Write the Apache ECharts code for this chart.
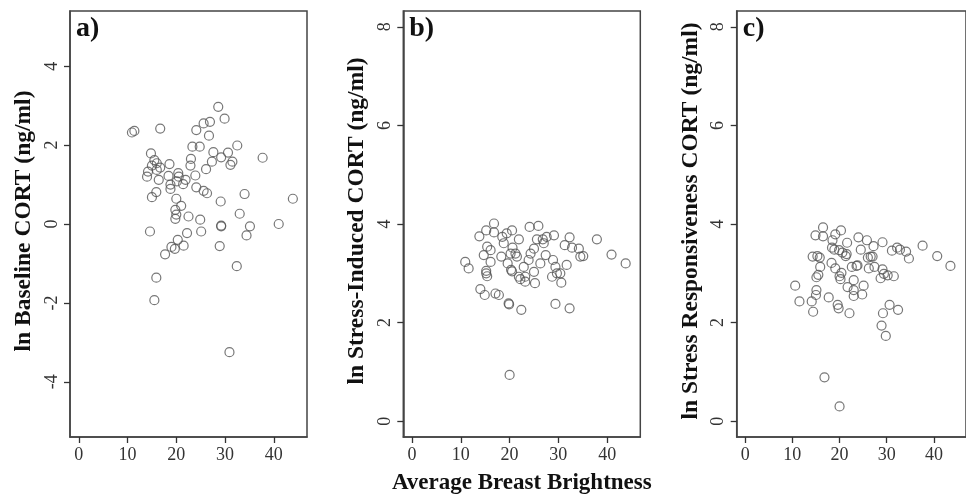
<!DOCTYPE html>
<html><head><meta charset="utf-8">
<script src="https://cdn.jsdelivr.net/npm/echarts@6/dist/echarts.min.js"></script>
<style>html,body{margin:0;padding:0;background:#fff;}#c{width:966px;height:496px;}</style>
</head><body><div id="c"></div>
<script>
// Panel a: [brightness, ln baseline CORT]
const baselineData = [[10.9,2.32],[11.4,2.36],[16.7,2.42],[24.1,2.38],[25.6,2.55],[26.9,2.59],[28.6,2.97],[29.9,2.67],[26.7,2.24],[23.3,1.96],[24.8,1.96],[32.5,1.99],[14.8,1.79],[27.6,1.82],[30.6,1.81],[37.7,1.68],[29.2,1.69],[31.5,1.58],[31.1,1.50],[27.3,1.58],[26.1,1.39],[15.5,1.62],[15.0,1.48],[16.0,1.54],[16.7,1.43],[16.0,1.37],[14.2,1.33],[14.0,1.20],[18.6,1.52],[23.0,1.65],[22.9,1.48],[16.4,1.12],[18.4,1.22],[20.4,1.29],[20.5,1.20],[20.1,1.08],[21.9,1.12],[18.8,1.0],[21.4,1.01],[23.9,1.23],[24.1,0.93],[25.6,0.84],[26.3,0.78],[15.9,0.81],[15.0,0.68],[18.8,0.89],[20.0,0.64],[21.0,0.46],[19.8,0.36],[19.8,0.13],[20.0,0.24],[22.5,0.19],[29.1,0.57],[34.0,0.76],[33.0,0.26],[43.9,0.64],[24.9,0.11],[25.1,-0.19],[29.2,-0.04],[29.2,-0.06],[35.1,-0.06],[41.0,0.0],[34.4,-0.29],[14.6,-0.19],[22.2,-0.23],[20.3,-0.40],[21.5,-0.55],[19.0,-0.58],[19.7,-0.63],[17.7,-0.77],[28.9,-0.56],[32.4,-1.07],[15.9,-1.36],[15.5,-1.93],[30.9,-3.25]];
// Panel b: [brightness, ln stress-induced CORT]
const stressInducedData = [[10.9,3.23],[11.6,3.10],[13.8,3.75],[15.2,3.87],[16.8,4.01],[16.8,3.83],[14.0,2.68],[14.9,2.56],[14.7,3.37],[15.4,3.54],[16.1,3.47],[16.1,3.23],[15.2,3.0],[15.4,2.94],[15.2,3.05],[17.1,2.59],[17.8,2.56],[19.8,2.39],[19.9,2.37],[22.4,2.26],[20.0,0.94],[18.5,3.74],[18.8,3.61],[19.4,3.81],[20.5,3.87],[18.3,3.34],[19.6,3.20],[20.2,3.40],[20.6,3.52],[21.2,3.40],[21.9,3.69],[20.3,3.07],[20.5,3.04],[21.5,3.34],[21.9,2.93],[22.2,2.88],[22.9,3.13],[23.2,2.93],[23.2,2.83],[23.9,3.27],[24.1,3.94],[25.9,3.96],[25.0,3.50],[25.6,3.69],[25.0,3.03],[25.2,2.80],[26.3,3.20],[26.8,3.69],[27.6,3.74],[27.4,3.37],[27.0,3.61],[24.3,3.40],[29.1,3.77],[28.9,3.27],[28.7,2.93],[29.4,3.13],[29.7,3.00],[30.4,3.00],[30.6,2.81],[29.4,2.38],[32.3,2.29],[31.3,3.57],[31.7,3.17],[32.3,3.73],[32.8,3.52],[34.2,3.50],[34.5,3.34],[35.1,3.35],[37.9,3.69],[40.9,3.38],[43.8,3.20]];
// Panel c: [brightness, ln stress responsiveness CORT]
const responsivenessData = [[10.6,2.75],[11.5,2.43],[14.1,2.43],[14.4,2.22],[14.9,3.77],[16.5,3.93],[16.5,3.75],[14.3,3.34],[15.3,3.35],[15.8,3.32],[15.9,3.13],[15.5,2.97],[15.1,2.92],[15.1,2.66],[15.0,2.56],[17.7,2.51],[16.8,0.89],[20.0,0.30],[18.3,3.21],[18.5,3.67],[19.1,3.79],[18.4,3.52],[18.9,3.48],[19.1,3.10],[19.6,2.36],[19.8,2.29],[20.3,3.87],[19.9,3.47],[20.6,3.42],[20.0,2.94],[20.2,2.88],[20.4,3.01],[21.6,3.62],[21.3,3.35],[21.5,3.39],[22.1,2.19],[21.7,2.72],[22.6,3.13],[23.0,2.86],[23.0,2.66],[23.0,2.54],[23.6,3.15],[23.8,3.16],[24.0,3.73],[24.5,3.48],[25.1,2.75],[24.8,2.57],[25.8,3.67],[26.0,3.32],[26.2,3.10],[26.6,3.34],[27.0,3.34],[27.2,3.55],[27.4,3.13],[29.1,3.63],[29.1,3.08],[29.4,2.99],[28.7,2.90],[28.9,1.94],[29.2,2.19],[29.8,1.73],[30.6,2.36],[30.2,2.96],[31.5,2.94],[31.1,3.46],[32.4,2.26],[32.2,3.52],[32.8,3.48],[34.1,3.44],[34.7,3.30],[37.6,3.56],[40.7,3.35],[43.5,3.15]];

const xTicks = [0, 10, 20, 30, 40];
const yTicksA = [-4, -2, 0, 2, 4];
const yTicksBC = [0, 2, 4, 6, 8];
const yTitles = ['ln Baseline CORT (ng/ml)', 'ln Stress-Induced CORT (ng/ml)', 'ln Stress Responsiveness CORT (ng/ml)'];
const panelLabels = ['a)', 'b)', 'c)'];
const xTitle = 'Average Breast Brightness';

const chart = echarts.init(document.getElementById('c'), null, {renderer: 'canvas'});
const SERIF = '"Liberation Serif", "DejaVu Serif", serif';
const lefts = [70, 403.3, 736.7];
const W = 237, TOP = 11, H = 426;

function xAxisCfg(i) {
  return {
    gridIndex: i, type: 'value', min: -1.8, max: 46.8, position: 'bottom',
    axisLine: {show: true, onZero: false, lineStyle: {color: '#444', width: 1.5}}, splitLine: {show: false},
    axisTick: {show: true, inside: false, length: 6, lineStyle: {color: '#333', width: 1.3}, customValues: xTicks},
    axisLabel: {customValues: xTicks, margin: 9, fontFamily: SERIF, fontSize: 18, color: '#333'}
  };
}
function yAxisCfg(i, ticks, mn, mx) {
  return {
    gridIndex: i, type: 'value', min: mn, max: mx, position: 'left',
    axisLine: {show: true, onZero: false, lineStyle: {color: '#444', width: 1.5}}, splitLine: {show: false},
    axisTick: {show: true, inside: false, length: 6, lineStyle: {color: '#333', width: 1.3}, customValues: ticks},
    axisLabel: {customValues: ticks, rotate: 90, margin: 9, fontFamily: SERIF, fontSize: 18, color: '#333'}
  };
}
const datasets = [baselineData, stressInducedData, responsivenessData];
const graphics = [];
for (let i = 0; i < 3; i++) {
  graphics.push({type: 'text', left: lefts[i] + 6, top: TOP + 4, z: 10,
    style: {text: panelLabels[i], font: 'bold 28px ' + SERIF, fill: '#111'}});
  graphics.push({type: 'text', x: lefts[i] - 46, y: TOP + H / 2 - 3, rotation: Math.PI / 2, z: 10,
    style: {text: yTitles[i], font: 'bold 23.5px ' + SERIF, fill: '#111', textAlign: 'center', textVerticalAlign: 'middle'}});
}
graphics.push({type: 'text', x: lefts[1] + W / 2, y: 483, z: 10,
  style: {text: xTitle, font: 'bold 23px ' + SERIF, fill: '#111', textAlign: 'center', textVerticalAlign: 'middle'}});

chart.setOption({
  backgroundColor: '#fff',
  animation: false,
  grid: lefts.map(l => ({left: l, top: TOP, width: W, height: H, show: true, borderColor: '#444', borderWidth: 1.5, backgroundColor: 'transparent'})),
  xAxis: [0, 1, 2].map(xAxisCfg),
  yAxis: [yAxisCfg(0, yTicksA, -5.4, 5.4), yAxisCfg(1, yTicksBC, -0.32, 8.32), yAxisCfg(2, yTicksBC, -0.32, 8.32)],
  series: datasets.map((d, i) => ({
    type: 'scatter', xAxisIndex: i, yAxisIndex: i, data: d,
    symbol: 'circle', symbolSize: 9,
    itemStyle: {color: 'transparent', borderColor: '#555', borderWidth: 1.2}
  })),
  graphic: graphics
});
</script></body></html>
